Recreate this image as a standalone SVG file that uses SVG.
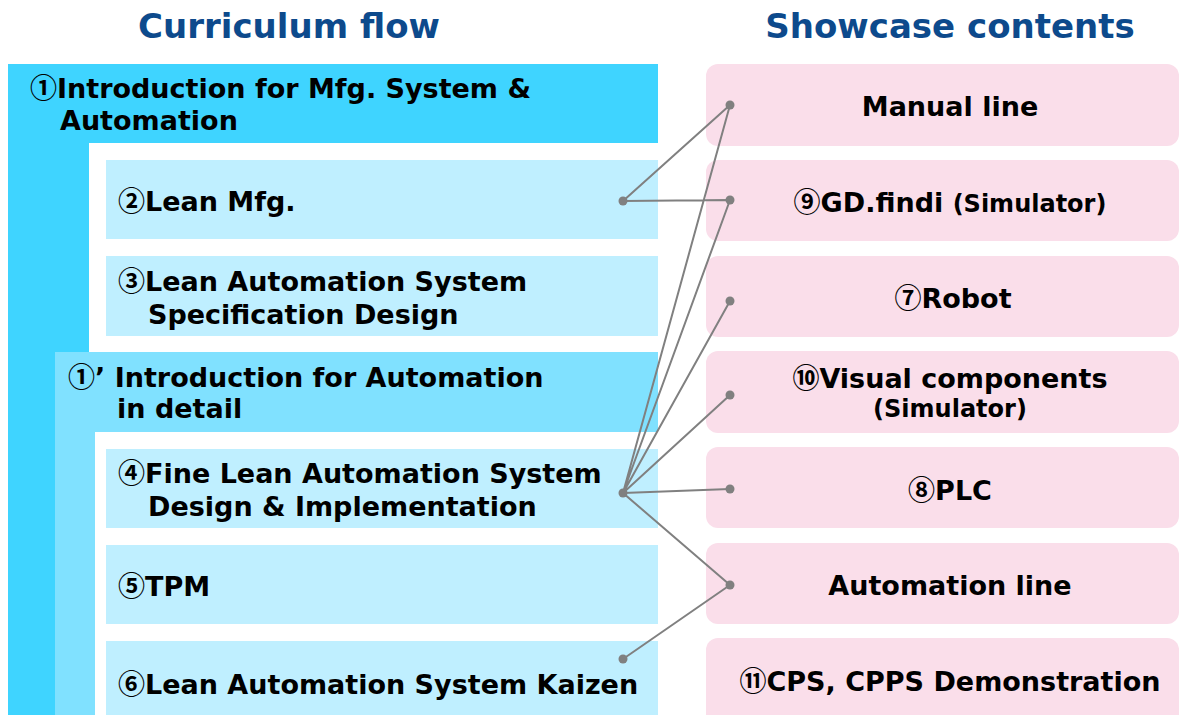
<svg xmlns="http://www.w3.org/2000/svg" width="1180" height="715" viewBox="0 0 1180 715">
<style>
.t{font-family:"DejaVu Sans","Noto Sans CJK JP",sans-serif;font-weight:bold;fill:#000;font-size:27px}
.n{font-family:"Noto Sans CJK JP","DejaVu Sans",sans-serif;font-weight:bold}
.h{font-family:"DejaVu Sans",sans-serif;font-weight:bold;fill:#0D4A8C;font-size:34px;text-anchor:middle}
.c{text-anchor:middle}
.s{font-size:24px}
.pink{fill:#FADEEA}
.lb{fill:#BFEFFF}
.ln{stroke:#808080;stroke-width:2;fill:none}
.dot{fill:#808080}
</style>
<rect width="1180" height="715" fill="#fff"/>
<text class="h" x="289" y="38">Curriculum flow</text>
<text class="h" x="950" y="38">Showcase contents</text>
<g id="n1">
<path d="M8 64H658V143H89V715H8Z" fill="#3FD4FF"/>
<text class="t" x="30" y="98"><tspan class="n">①</tspan>Introduction for Mfg. System &amp;</text>
<text class="t" x="60" y="130">Automation</text>
</g>
<g id="n2"><rect class="lb" x="106" y="160" width="552" height="79"/><text class="t" x="118" y="211"><tspan class="n">②</tspan>Lean Mfg.</text></g>
<g id="n3"><rect class="lb" x="106" y="256" width="552" height="80"/><text class="t" x="118" y="291"><tspan class="n">③</tspan>Lean Automation System</text><text class="t" x="148" y="324">Specification Design</text></g>
<g id="n1b">
<path d="M55 352H658V432H95V715H55Z" fill="#80E1FF"/>
<text class="t" x="68" y="387"><tspan class="n">①</tspan>’ Introduction for Automation</text>
<text class="t" x="117" y="418">in detail</text>
</g>
<g id="n4"><rect class="lb" x="106" y="449" width="552" height="79"/><text class="t" x="118" y="483"><tspan class="n">④</tspan>Fine Lean Automation System</text><text class="t" x="148" y="516">Design &amp; Implementation</text></g>
<g id="n5"><rect class="lb" x="106" y="545" width="552" height="79"/><text class="t" x="118" y="596"><tspan class="n">⑤</tspan>TPM</text></g>
<g id="n6"><rect class="lb" x="106" y="641" width="552" height="80"/><text class="t" x="118" y="694"><tspan class="n">⑥</tspan>Lean Automation System Kaizen</text></g>
<g id="s1"><rect class="pink" x="706" y="64" width="473" height="82" rx="12"/><text class="t c" x="950" y="116">Manual line</text></g>
<g id="s9"><rect class="pink" x="706" y="160" width="473" height="81" rx="12"/><text class="t c" x="950" y="212"><tspan class="n">⑨</tspan>GD.findi <tspan class="s">(Simulator)</tspan></text></g>
<g id="s7"><rect class="pink" x="706" y="256" width="473" height="81" rx="12"/><text class="t c" x="953" y="308"><tspan class="n">⑦</tspan>Robot</text></g>
<g id="s10"><rect class="pink" x="706" y="351" width="473" height="82" rx="12"/><text class="t c" x="950" y="388"><tspan class="n">⑩</tspan>Visual components</text><text class="t c s" x="950" y="417">(Simulator)</text></g>
<g id="s8"><rect class="pink" x="706" y="447" width="473" height="81" rx="12"/><text class="t c" x="950" y="500"><tspan class="n">⑧</tspan>PLC</text></g>
<g id="sA"><rect class="pink" x="706" y="543" width="473" height="81" rx="12"/><text class="t c" x="950" y="595">Automation line</text></g>
<g id="s11"><rect class="pink" x="706" y="638" width="473" height="90" rx="12"/><text class="t c" x="950" y="691"><tspan class="n">⑪</tspan>CPS, CPPS Demonstration</text></g>
<g id="connectors">
<path class="ln" d="M623 201L730 105M623 201L730 200M623 493L730 105M623 493L730 200M623 493L730 301M623 493L730 395M623 493L730 489M623 493L730 585M623 659L730 585"/>
<g class="dot">
<circle cx="623" cy="201" r="4.5"/><circle cx="623" cy="493" r="4.5"/><circle cx="623" cy="659" r="4.5"/>
<circle cx="730" cy="105" r="4.5"/><circle cx="730" cy="200" r="4.5"/><circle cx="730" cy="301" r="4.5"/><circle cx="730" cy="395" r="4.5"/><circle cx="730" cy="489" r="4.5"/><circle cx="730" cy="585" r="4.5"/>
</g>
</g>
</svg>
